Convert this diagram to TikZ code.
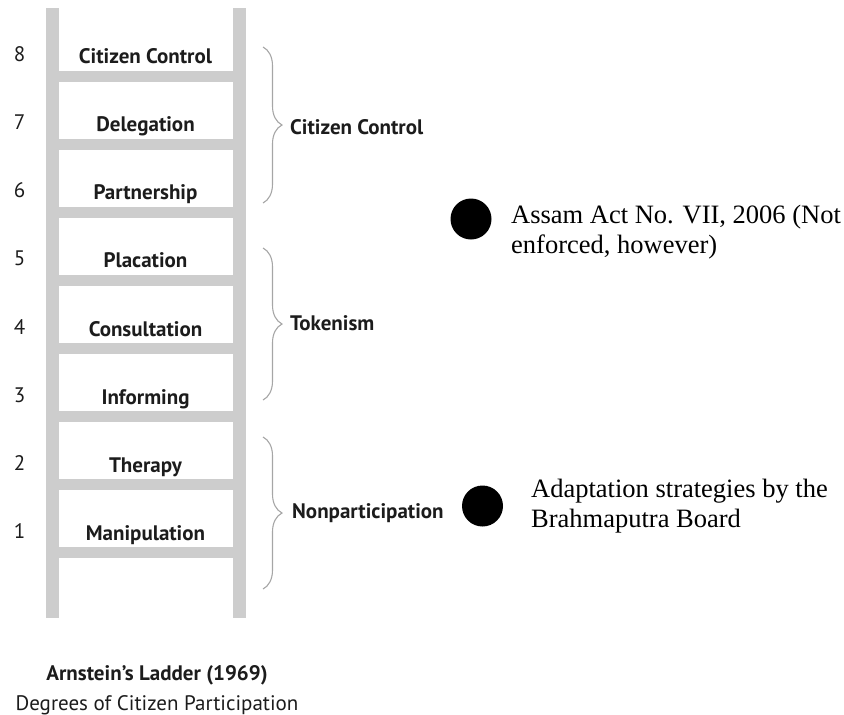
\documentclass[tikz,border=0pt]{standalone}
\usepackage{fontspec}
\setmainfont{Liberation Serif}
\newfontfamily\ptsans{PT Sans}
\usetikzlibrary{decorations.pathreplacing}
\definecolor{railgray}{HTML}{CDCDCD}
\definecolor{bracegray}{HTML}{A6A6A6}
\definecolor{ink}{HTML}{1C1C1C}
\begin{document}
\begin{tikzpicture}[x=1pt,y=-1pt,
  railpart/.style={fill=railgray},
  numlab/.style={anchor=base,inner sep=0,text=ink,font=\ptsans\fontsize{21}{24}\selectfont},
  runglab/.style={anchor=base,inner sep=0,text=ink,font=\ptsans\bfseries\fontsize{21}{24}\selectfont},
  grouplab/.style={anchor=west,inner sep=0,text=ink,font=\ptsans\bfseries\fontsize{21}{24}\selectfont},
  bracepath/.style={draw=bracegray,line width=1.1pt,decorate,decoration={brace,amplitude=19pt}},
  dotmark/.style={circle,fill=black,inner sep=0,minimum size=41pt},
  notetext/.style={anchor=base west,inner sep=0,align=left,text=black,font=\fontsize{26.5}{30}\selectfont}]
\useasboundingbox (0,0) rectangle (844,715);
% rails
\fill[railpart] (46,8) rectangle (58.5,618);
\fill[railpart] (233,8) rectangle (245.5,618);
% rungs
\foreach \i in {0,...,7}
  \fill[railpart] (58,{76+\i*68.14-5.5}) rectangle (233,{76+\i*68.14+5.5});
% labels
\foreach \n/\t [count=\i from 0] in {8/Citizen Control,7/Delegation,6/Partnership,5/Placation,4/Consultation,3/Informing,2/Therapy,1/Manipulation} {
  \node[numlab] (num\n) at (19.5,{61.5+\i*68.14}) {\n};
  \node[runglab] (rung\n) at (145.5,{63.5+\i*68.14}) {\t};
}
% braces
\coordinate (b1t) at (263,47);  \coordinate (b1b) at (263,203);
\coordinate (b2t) at (263,248); \coordinate (b2b) at (263,400);
\coordinate (b3t) at (263,437); \coordinate (b3b) at (263,589);
\draw[bracepath] (b1t) -- (b1b);
\draw[bracepath] (b2t) -- (b2b);
\draw[bracepath] (b3t) -- (b3b);
\node[grouplab] (g1) at (290,127) {Citizen Control};
\node[grouplab] (g2) at (290,323) {Tokenism};
\node[grouplab] (g3) at (292,513) {Nonparticipation};
% notes (base anchor = baseline of the last line)
\node[dotmark] (dot1) at (471,219) {};
\node[notetext] (note1) at (511,253) {Assam Act No. VII, 2006 (Not\\enforced, however)};
\node[dotmark] (dot2) at (482.5,506) {};
\node[notetext] (note2) at (531,527) {Adaptation strategies by the\\Brahmaputra Board};
% caption
\node[runglab] (cap1) at (157,680) {Arnstein’s Ladder (1969)};
\node[numlab] (cap2) at (157,710) {Degrees of Citizen Participation};
\end{tikzpicture}
\end{document}
